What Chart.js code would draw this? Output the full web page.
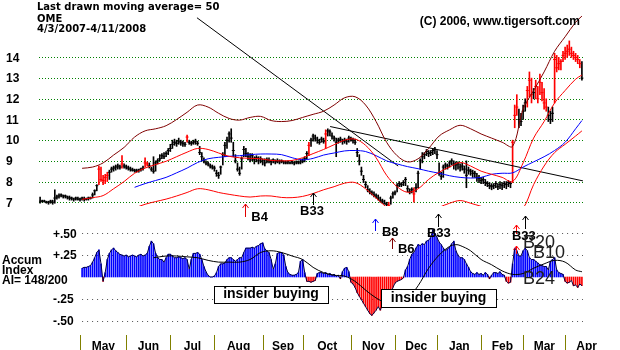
<!DOCTYPE html>
<html>
<head>
<meta charset="utf-8">
<title>OME</title>
<script src="https://cdn.jsdelivr.net/npm/chart.js@4.4.1/dist/chart.umd.min.js"></script>
<style>
  html, body { margin: 0; padding: 0; background: #fff; }
  canvas { display: block; }
</style>
</head>
<body>
<canvas id="chart" width="620" height="350"></canvas>
<script>
// daily bars, trading day 0 = 4/3/2007 ... day 258 = 4/11/2008
const closes = [
  7.05, 7.05, 7.05, 7.0, 7.0, 7.05, 7.0, 7.2, 7.25, 7.3,
  7.35, 7.3, 7.3, 7.25, 7.2, 7.2, 7.15, 7.2, 7.15, 7.15,
  7.2, 7.15, 7.15, 7.2, 7.2, 7.35, 7.55, 7.8, 8.6, 8.1,
  8.05, 8.2, 8.3, 8.45, 8.6, 8.65, 8.7, 8.75, 8.7, 8.85,
  8.75, 8.7, 8.65, 8.6, 8.55, 8.55, 8.5, 8.55, 8.6, 8.65,
  8.9, 8.85, 8.75, 8.6, 8.5, 8.9, 9.0, 9.1, 9.25, 9.2,
  9.35, 9.5, 9.6, 9.8, 9.9, 9.85, 9.95, 9.9, 9.85, 9.8,
  10.15, 9.9, 9.85, 9.9, 9.95, 9.85, 9.4, 9.2, 9.0, 8.9,
  8.85, 8.75, 8.7, 8.65, 8.4, 8.3, 8.7, 9.3, 9.75, 10.0,
  10.3, 10.1, 9.5, 9.0, 8.6, 8.4, 9.1, 9.55, 9.35, 9.2,
  9.1, 9.25, 9.05, 9.15, 9.0, 9.1, 9.0, 8.9, 9.05, 9.0,
  8.95, 9.05, 8.95, 9.0, 8.95, 9.0, 8.95, 8.9, 8.95, 8.9,
  8.95, 8.9, 8.95, 8.9, 8.95, 9.0, 9.1, 9.35, 9.75, 10.0,
  10.2, 10.1, 10.0, 9.9, 10.05, 9.95, 10.3, 10.45, 10.4, 10.2,
  10.1, 9.9, 10.0, 10.05, 9.95, 10.0, 9.95, 10.1, 10.05, 10.0,
  9.9, 9.4, 9.0, 8.5, 8.1, 7.85, 7.6, 7.5, 7.45, 7.35,
  7.3, 7.2, 7.1, 7.05, 6.95, 6.9, 6.85, 7.2, 7.4, 7.45,
  7.8, 7.9, 7.85, 7.95, 8.1, 7.65, 7.5, 7.6, 7.4, 7.7,
  8.4, 9.0, 9.2, 9.3, 9.45, 9.35, 9.4, 9.5, 9.55, 9.3,
  8.4, 8.25, 8.7, 8.8, 8.75, 8.9, 9.0, 8.85, 8.8, 8.85,
  8.7, 8.75, 8.6, 8.3, 8.55, 8.5, 8.4, 8.4, 8.2, 8.15,
  8.05, 8.1, 7.95, 7.9, 7.8, 7.75, 7.8, 7.9, 7.75, 7.85,
  7.8, 7.9, 7.85, 7.95, 7.9, 9.9, 11.2, 11.6, 11.0, 10.9,
  11.4, 11.8, 12.4, 12.9, 12.2, 12.3, 12.6, 12.0, 12.8, 12.3,
  11.8, 11.6, 11.2, 11.0, 11.3, 13.9, 13.5, 13.7, 13.8, 14.1,
  14.2, 14.3, 14.4, 14.2, 14.1, 14.0, 13.9, 13.7, 13.0
];
const highs = [
  7.25, 7.1, 7.1, 7.05, 7.05, 7.1, 7.1, 7.6, 7.35, 7.4,
  7.4, 7.35, 7.35, 7.3, 7.3, 7.25, 7.2, 7.25, 7.25, 7.2,
  7.25, 7.25, 7.2, 7.25, 7.25, 7.45, 7.6, 7.85, 8.75, 8.7,
  8.3, 8.35, 8.45, 8.55, 8.7, 8.75, 8.8, 8.85, 8.8, 9.25,
  8.85, 8.8, 8.75, 8.7, 8.65, 8.6, 8.6, 8.6, 8.65, 8.75,
  9.15, 8.95, 8.9, 8.7, 9.2, 9.0, 9.1, 9.3, 9.35, 9.4,
  9.45, 9.6, 9.8, 10.0, 10.05, 10.0, 10.1, 10.0, 9.95, 9.9,
  10.25, 10.0, 9.95, 10.0, 10.05, 9.95, 9.7, 9.4, 9.15, 9.0,
  8.95, 8.85, 8.8, 8.75, 8.55, 8.45, 8.75, 9.4, 9.9, 10.15,
  10.4, 10.55, 9.9, 9.3, 8.9, 8.7, 9.2, 9.7, 9.6, 9.4,
  9.35, 9.35, 9.2, 9.25, 9.2, 9.2, 9.1, 9.1, 9.15, 9.15,
  9.05, 9.1, 9.05, 9.1, 9.05, 9.05, 9.0, 9.0, 9.0, 8.95,
  9.0, 8.95, 9.0, 9.0, 9.05, 9.1, 9.2, 9.45, 9.9, 10.1,
  10.3, 10.25, 10.15, 10.05, 10.15, 10.1, 10.5, 10.55, 10.5, 10.35,
  10.2, 10.1, 10.1, 10.15, 10.05, 10.1, 10.05, 10.2, 10.15, 10.1,
  10.05, 9.6, 9.3, 8.7, 8.3, 8.0, 7.8, 7.65, 7.55, 7.5,
  7.4, 7.35, 7.25, 7.15, 7.1, 7.0, 7.0, 7.3, 7.5, 7.55,
  7.9, 8.0, 7.95, 8.05, 8.2, 7.8, 7.65, 7.7, 7.7, 7.9,
  8.5, 9.1, 9.4, 9.4, 9.55, 9.5, 9.5, 9.6, 9.65, 9.5,
  8.9, 8.45, 8.8, 8.9, 8.85, 9.0, 9.1, 9.0, 8.95, 8.95,
  8.85, 8.9, 8.75, 9.0, 8.7, 8.6, 8.55, 8.5, 8.4, 8.3,
  8.2, 8.2, 8.1, 8.0, 7.95, 7.9, 7.9, 8.0, 7.9, 8.0,
  7.95, 8.0, 8.0, 8.05, 8.0, 10.0, 11.7, 12.2, 11.5, 11.3,
  11.7, 12.0, 12.6, 13.3, 13.0, 12.5, 12.9, 12.6, 13.2, 12.8,
  12.5, 12.0, 11.6, 11.4, 11.6, 14.2, 14.1, 14.0, 13.9, 14.3,
  14.5, 14.6, 14.8, 14.5, 14.3, 14.2, 14.1, 13.9, 13.8
];
const lows = [
  6.95, 7.0, 7.0, 6.95, 6.9, 6.95, 6.9, 6.95, 7.15, 7.2,
  7.25, 7.2, 7.2, 7.15, 7.1, 7.1, 7.05, 7.1, 7.1, 7.05,
  7.1, 7.05, 7.1, 7.1, 7.15, 7.2, 7.35, 7.55, 7.85, 8.0,
  7.85, 7.9, 8.0, 8.1, 8.45, 8.5, 8.55, 8.6, 8.6, 8.65,
  8.65, 8.6, 8.55, 8.5, 8.5, 8.45, 8.45, 8.45, 8.5, 8.55,
  8.7, 8.75, 8.65, 8.5, 8.4, 8.5, 8.85, 9.0, 9.1, 9.1,
  9.2, 9.3, 9.45, 9.6, 9.75, 9.7, 9.8, 9.75, 9.7, 9.7,
  9.9, 9.8, 9.75, 9.8, 9.8, 9.75, 9.3, 9.0, 8.9, 8.8,
  8.75, 8.65, 8.6, 8.5, 8.25, 8.15, 8.35, 8.8, 9.2, 9.6,
  9.9, 9.9, 9.2, 8.9, 8.5, 8.3, 8.6, 9.2, 9.2, 9.05,
  8.95, 9.0, 8.85, 8.95, 8.85, 8.9, 8.8, 8.75, 8.9, 8.9,
  8.8, 8.9, 8.85, 8.9, 8.85, 8.9, 8.85, 8.85, 8.85, 8.85,
  8.85, 8.8, 8.85, 8.85, 8.85, 8.9, 8.95, 9.1, 9.25, 9.7,
  9.95, 9.95, 9.85, 9.8, 9.9, 9.85, 9.6, 10.2, 10.2, 10.05,
  9.95, 9.2, 9.85, 9.9, 9.8, 9.85, 9.8, 9.9, 9.95, 9.85,
  9.8, 9.2, 8.8, 8.3, 7.95, 7.7, 7.5, 7.4, 7.35, 7.25,
  7.2, 7.1, 7.0, 6.95, 6.9, 6.8, 6.75, 6.9, 7.2, 7.35,
  7.5, 7.75, 7.75, 7.8, 7.8, 7.5, 7.4, 7.45, 7.0, 7.5,
  7.7, 8.6, 8.9, 9.1, 9.25, 9.2, 9.25, 9.3, 9.35, 9.1,
  8.3, 8.1, 8.2, 8.6, 8.6, 8.7, 8.8, 8.6, 8.55, 8.6,
  8.5, 8.55, 8.4, 7.7, 8.35, 8.3, 8.2, 8.2, 8.0, 7.95,
  7.9, 7.9, 7.8, 7.75, 7.65, 7.6, 7.65, 7.7, 7.6, 7.65,
  7.6, 7.7, 7.65, 7.75, 7.7, 7.95, 10.6, 11.2, 10.6, 10.7,
  11.0, 11.4, 11.6, 12.1, 11.8, 12.0, 12.0, 11.8, 12.2, 11.9,
  11.5, 11.4, 10.9, 10.8, 10.9, 11.8, 13.3, 13.4, 13.4, 13.8,
  13.9, 14.0, 14.1, 14.0, 13.9, 13.8, 13.7, 13.5, 12.9
];
// days whose bar is printed in red
const redDays = [28, 29, 30, 31, 32, 39, 50, 51, 70, 128, 136, 166, 178,
  225, 226, 227, 232, 233, 234, 236, 237, 238, 239, 240, 241,
  245, 246, 247, 248, 249, 250, 251, 252, 253, 254, 255, 256, 257];

// moving averages and bands, read every 5 trading days
const bandDays = [20, 25, 30, 35, 40, 45, 50, 55, 60, 65, 70, 75, 80, 85, 90, 95, 100,
  105, 110, 115, 120, 125, 130, 135, 140, 145, 150, 155, 160, 165, 170, 175, 180,
  185, 190, 195, 200, 205, 210, 215, 220, 225, 230, 235, 240, 245, 250, 255, 258];
const ma21 = [7.14, 7.22, 7.32, 7.65, 8.0, 8.4, 8.65, 8.82, 8.98, 9.2, 9.42, 9.6, 9.55,
  9.38, 9.22, 9.15, 9.12, 9.1, 9.02, 9.0, 9.02, 9.15, 9.35, 9.55, 9.78, 10.0, 10.05,
  9.75, 9.15, 8.3, 7.75, 7.48, 7.65, 8.1, 8.45, 8.7, 8.92, 8.75, 8.5, 8.35, 8.2, 8.0,
  8.9, 10.1, 10.9, 11.8, 12.4, 12.95, 13.15];
const ma50 = [null, null, null, null, null, 7.72, 7.9, 8.05, 8.2, 8.42, 8.65, 8.92, 9.1,
  9.17, 9.22, 9.25, 9.3, 9.33, 9.33, 9.3, 9.15, 9.05, 9.12, 9.28, 9.38, 9.48, 9.5,
  9.45, 9.25, 9.0, 8.85, 8.72, 8.62, 8.5, 8.4, 8.28, 8.2, 8.17, 8.2, 8.35, 8.4, 8.42,
  8.7, 8.95, 9.2, 9.5, 9.9, 10.55, 10.95];
const upperBand = [8.64, 8.7, 8.9, 9.28, 9.65, 10.15, 10.45, 10.55, 10.7, 11.0, 11.35,
  11.7, 11.6, 11.3, 11.05, 10.97, 11.1, 11.15, 10.95, 10.9, 10.95, 11.1, 11.25, 11.4,
  11.7, 12.05, 12.1, 11.7, 10.9, 9.9, 9.25, 8.95, 9.1, 9.6, 10.2, 10.5, 10.72, 10.55,
  10.3, 10.1, 9.9, 9.7, 11.5, 12.4, 13.3, 14.3, 15.0, 15.7, 16.0];
const lowerBand = [null, null, null, null, null, 6.72, 6.9, 7.03, 7.15, 7.3, 7.47, 7.65,
  7.6, 7.47, 7.38, 7.3, 7.25, 7.3, 7.3, 7.23, 7.22, 7.28, 7.42, 7.6, 7.75, 7.92, 7.95,
  7.65, 7.2, 6.75, 6.3, 6.0, 6.15, 6.5, 6.75, 6.95, 7.08, 6.95, 6.8, 6.65, 6.55, 6.45,
  6.7, 7.85, 8.75, 9.4, 9.8, 10.2, 10.45];

// hand drawn trend lines: [day, price] end points
const trendDown = [[74.7, 15.92], [170.5, 8.75]];
const trendFlat = [[138.1, 10.66], [258.5, 8.03]];

// accumulation index, one value per day from day 20
const accumStart = 20;
const accum = [
  0.10, 0.11, 0.11, 0.12, 0.13, 0.17, 0.22, 0.28, 0.31, 0.15,
  -0.05, 0.05, 0.20, 0.27, 0.31, 0.33, 0.30, 0.28, 0.26, 0.25,
  0.24, 0.25, 0.23, 0.24, 0.25, 0.24, 0.23, 0.25, 0.26, 0.24,
  0.25, 0.27, 0.35, 0.41, 0.38, 0.27, 0.22, 0.20, 0.20, 0.17,
  0.22, 0.26, 0.26, 0.24, 0.22, 0.22, 0.23, 0.22, 0.21, 0.22,
  0.20, 0.09, 0.20, 0.27, 0.27, 0.28, 0.26, 0.20, 0.12, 0.06,
  0.02, 0.00, 0.00, 0.01, 0.05, 0.12, 0.15, 0.15, 0.16, 0.20,
  0.22, 0.22, 0.20, 0.18, 0.20, 0.22, 0.22, 0.28, 0.33, 0.33,
  0.33, 0.34, 0.33, 0.35, 0.36, 0.38, 0.39, 0.32, 0.30, 0.28,
  0.20, 0.09, 0.15, 0.27, 0.28, 0.28, 0.25, 0.12, 0.05, 0.03,
  0.02, 0.02, 0.03, 0.05, 0.18, 0.20, 0.05, -0.05, -0.05, -0.06,
  -0.05, -0.04, 0.04, 0.05, 0.05, 0.04, 0.05, 0.03, 0.04, 0.02,
  0.03, 0.01, 0.02, -0.02, 0.06, 0.10, 0.11, 0.06, -0.06, -0.08,
  -0.12, -0.18, -0.22, -0.26, -0.30, -0.34, -0.38, -0.42, -0.44, -0.41,
  -0.38, -0.34, -0.38, -0.32, -0.30, -0.24, -0.22, -0.20, -0.12, -0.07,
  -0.05, -0.04, -0.03, -0.01, 0.08, 0.12, 0.20, 0.26, 0.28, 0.33,
  0.37, 0.36, 0.38, 0.37, 0.41, 0.42, 0.45, 0.54, 0.50, 0.45,
  0.40, 0.37, 0.33, 0.30, 0.32, 0.34, 0.38, 0.41, 0.30, 0.25,
  0.22, 0.22, 0.20, 0.15, 0.11, 0.06, 0.04, 0.03, 0.05, 0.03,
  0.04, 0.02, 0.05, 0.03, -0.02, 0.02, 0.05, 0.05, 0.04, 0.06,
  0.03, 0.02, -0.05, -0.07, -0.06, 0.15, 0.33, 0.30, 0.24, 0.24,
  0.30, 0.33, 0.30, 0.22, 0.20, 0.20, 0.18, 0.16, 0.14, 0.13,
  0.12, 0.12, 0.08, 0.18, 0.20, 0.22, 0.08, 0.05, 0.04, 0.03,
  -0.05, -0.07, -0.06, -0.04, -0.10, -0.09, -0.12, -0.08, -0.10
];
const accumMaDays = [54, 60, 65, 70, 75, 80, 85, 90, 95, 100, 105, 110, 115, 120, 125,
  130, 135, 140, 145, 150, 155, 160, 165, 170, 175, 180, 185, 190, 195, 198, 200, 205,
  210, 215, 220, 225, 230, 235, 240, 245, 250, 255, 258];
const accumMa = [0.22, 0.24, 0.24, 0.23, 0.22, 0.19, 0.17, 0.17, 0.17, 0.2, 0.28, 0.3,
  0.28, 0.24, 0.2, 0.11, 0.05, 0.02, 0.01, -0.05, -0.15, -0.24, -0.3, -0.33, -0.25,
  -0.1, 0.1, 0.25, 0.35, 0.37, 0.36, 0.3, 0.2, 0.14, 0.07, 0.03, 0.04, 0.1, 0.15, 0.19,
  0.17, 0.08, 0.06];

// axes
const priceTicks = [7, 8, 9, 10, 11, 12, 13, 14];
const accumTicks = [0.5, 0.25, -0.25, -0.5];
const accumTickLabels = ['+.50', '+.25', '-.25', '-.50'];
const monthStarts = [19, 41, 62, 83, 106, 125, 148, 169, 189, 210, 230, 250];
const monthLabels = ['May', 'Jun', 'Jul', 'Aug', 'Sep', 'Oct', 'Nov', 'Dec', 'Jan', 'Feb', 'Mar', 'Apr'];

const RED = '#ff0000';
const DARKRED = '#800000';
const BLUE = '#0000ff';
const SANS = '"Liberation Sans", Arial, sans-serif';
const WIDE = '"DejaVu Sans", sans-serif';

const redSet = new Set(redDays);
const barColor = c => (c.raw && redSet.has(c.raw.x)) ? RED : '#000000';
const toPoints = (days, vals) => days.map((d, i) => ({ x: d, y: vals[i] }));

// price panel stops just under the 7 line
const priceClip = { left: 0, top: 5, right: 2, bottom: -139 };

const priceBars = closes.map((c, i) => ({ x: i, y: [lows[i], highs[i]] }));
const closePoints = closes.map((c, i) => ({ x: i, y: c }));
const accumPoints = accum.map((v, i) => ({ x: accumStart + i, y: v }));

function lineSet(data, color, axis) {
  return {
    type: 'line', data, yAxisID: axis, borderColor: color, borderWidth: 1,
    pointRadius: 0, tension: 0.35, fill: false, order: 0,
    clip: axis === 'y' ? priceClip : undefined
  };
}

function arrow(ctx, px, yTop, yBottom, color) {
  const x0 = Math.round(px) + 0.5;
  ctx.strokeStyle = color;
  ctx.lineWidth = 1;
  ctx.beginPath();
  ctx.moveTo(x0, yBottom);
  ctx.lineTo(x0, yTop);
  ctx.moveTo(x0 - 3, yTop + 4);
  ctx.lineTo(x0, yTop);
  ctx.lineTo(x0 + 3, yTop + 4);
  ctx.stroke();
}

function textBox(ctx, left, right, top, bottom, label) {
  ctx.fillStyle = '#ffffff';
  ctx.fillRect(left, top, right - left, bottom - top);
  ctx.strokeStyle = '#000000';
  ctx.lineWidth = 1;
  ctx.strokeRect(Math.round(left) + 0.5, top + 0.5, Math.round(right - left), bottom - top);
  ctx.fillStyle = '#000000';
  ctx.font = 'bold 14px ' + SANS;
  ctx.textAlign = 'center';
  ctx.textBaseline = 'alphabetic';
  ctx.fillText(label, (left + right) / 2, bottom - 5);
}

const overlay = {
  id: 'overlay',
  beforeDatasetsDraw(chart) {
    const { ctx, chartArea, scales: { x, y, y2 } } = chart;
    ctx.save();
    ctx.lineWidth = 1;
    ctx.setLineDash([1, 2]);
    ctx.strokeStyle = '#008000';
    priceTicks.forEach(v => {
      const py = Math.round(y.getPixelForValue(v)) + 0.5;
      ctx.beginPath();
      ctx.moveTo(chartArea.left, py);
      ctx.lineTo(chartArea.right, py);
      ctx.stroke();
    });
    ctx.setLineDash([1, 4]);
    ctx.strokeStyle = '#505050';
    const accLeft = x.getPixelForValue(accumStart);
    accumTicks.forEach(v => {
      const py = Math.round(y2.getPixelForValue(v)) + 0.5;
      ctx.beginPath();
      ctx.moveTo(accLeft, py);
      ctx.lineTo(chartArea.right, py);
      ctx.stroke();
    });
    ctx.restore();
  },
  afterDatasetsDraw(chart) {
    const { ctx, chartArea, scales: { x, y, y2 } } = chart;
    ctx.save();
    ctx.setLineDash([]);

    // price axis
    ctx.fillStyle = '#000000';
    ctx.font = 'bold 12px ' + SANS;
    ctx.textAlign = 'left';
    ctx.textBaseline = 'middle';
    priceTicks.forEach(v => ctx.fillText(String(v), 6, y.getPixelForValue(v) + 1));

    // accumulation axis
    accumTicks.forEach((v, i) => ctx.fillText(accumTickLabels[i], 53, y2.getPixelForValue(v) + 1));
    ctx.textBaseline = 'alphabetic';
    ctx.fillText('Accum', 2, 264);
    ctx.fillText('Index', 2, 274);
    ctx.fillText('AI= 148/200', 2, 284);

    // month separators and names
    ctx.strokeStyle = '#808000';
    ctx.lineWidth = 1;
    ctx.textAlign = 'center';
    ctx.textBaseline = 'top';
    monthStarts.forEach((d, i) => {
      const px = Math.round(x.getPixelForValue(d)) + 0.5;
      ctx.beginPath();
      ctx.moveTo(px, 335);
      ctx.lineTo(px, 350);
      ctx.stroke();
      const next = i < monthStarts.length - 1
        ? x.getPixelForValue(monthStarts[i + 1])
        : px + (px - x.getPixelForValue(monthStarts[i - 1]));
      ctx.fillStyle = '#000000';
      ctx.fillText(monthLabels[i], (px + next) / 2, 341);
    });

    // buy signals
    arrow(ctx, x.getPixelForValue(97.6), 204, 217, '#e00000');
    arrow(ctx, x.getPixelForValue(130), 193, 205, '#000000');
    arrow(ctx, x.getPixelForValue(159.5), 219, 231, '#0000ff');
    arrow(ctx, x.getPixelForValue(167.6), 238, 249, DARKRED);
    arrow(ctx, x.getPixelForValue(189.5), 214, 227, '#000000');
    arrow(ctx, x.getPixelForValue(231), 216, 229, '#000000');
    arrow(ctx, x.getPixelForValue(226.6), 225, 234, RED);
    arrow(ctx, x.getPixelForValue(226.6), 246, 254, RED);
    ctx.fillStyle = '#000000';
    ctx.font = 'bold 13px ' + SANS;
    ctx.textAlign = 'left';
    ctx.textBaseline = 'alphabetic';
    ctx.fillText('B4', x.getPixelForValue(100.6), 221);
    ctx.fillText('B33', x.getPixelForValue(123.8), 215);
    ctx.fillText('B8', x.getPixelForValue(162.8), 236);
    ctx.fillText('B6', x.getPixelForValue(170.4), 253);
    ctx.fillText('B33', x.getPixelForValue(184.2), 237);
    ctx.fillText('B33', x.getPixelForValue(224.7), 240);
    ctx.fillStyle = '#202020';
    ctx.font = '18px ' + SANS;
    ctx.fillText('B20', x.getPixelForValue(230), 248);
    ctx.fillText('B10', x.getPixelForValue(234.7), 258);
    ctx.fillText('B24', x.getPixelForValue(230), 284);

    // notes on the accumulation panel
    textBox(ctx, x.getPixelForValue(82.8), x.getPixelForValue(137.1), 286, 303, 'insider buying');
    textBox(ctx, x.getPixelForValue(162.3), x.getPixelForValue(217.2), 289, 307, 'insider buying');

    // titles
    ctx.fillStyle = '#000000';
    ctx.font = 'bold 10px ' + WIDE;
    ctx.textAlign = 'left';
    ctx.fillText('Last drawn moving average= 50', 37, 10);
    ctx.fillText('OME', 37, 22);
    ctx.fillText('4/3/2007-4/11/2008', 37, 32);
    ctx.font = 'bold 12px ' + SANS;
    ctx.textAlign = 'right';
    ctx.fillText('(C) 2006, www.tigersoft.com', 580, 25);
    ctx.restore();
  }
};

new Chart(document.getElementById('chart'), {
  data: {
    datasets: [
      lineSet(toPoints(bandDays, upperBand), DARKRED, 'y'),
      lineSet(toPoints(bandDays, ma21), RED, 'y'),
      lineSet(toPoints(bandDays, ma50), BLUE, 'y'),
      lineSet(toPoints(bandDays, lowerBand), RED, 'y'),
      Object.assign(lineSet(trendDown.map(p => ({ x: p[0], y: p[1] })), '#000000', 'y'), { tension: 0 }),
      Object.assign(lineSet(trendFlat.map(p => ({ x: p[0], y: p[1] })), '#000000', 'y'), { tension: 0 }),
      {
        type: 'line', data: closePoints, yAxisID: 'y', showLine: false,
        pointStyle: 'line', pointRadius: 1.5, pointBorderWidth: 1,
        pointBorderColor: barColor, order: 4, clip: priceClip
      },
      {
        type: 'bar', data: priceBars, yAxisID: 'y', barThickness: 1, grouped: false,
        backgroundColor: barColor, borderWidth: 0, order: 5, clip: priceClip
      },
      lineSet(toPoints(accumMaDays, accumMa), '#000000', 'y2'),
      Object.assign(lineSet(accumPoints, '#000040', 'y2'), { tension: 0, order: 3 }),
      {
        type: 'bar', data: accumPoints, yAxisID: 'y2', barThickness: 1, grouped: false,
        backgroundColor: c => (c.raw && c.raw.y < 0) ? RED : BLUE, borderWidth: 0, order: 5
      }
    ]
  },
  options: {
    responsive: false,
    animation: false,
    devicePixelRatio: 1,
    layout: { padding: { left: 39, right: 37, top: 0, bottom: 0 } },
    plugins: { legend: { display: false }, tooltip: { enabled: false } },
    scales: {
      x: { type: 'linear', offset: false, min: -0.524, max: 258.52, display: false },
      y: { type: 'linear', min: 0.094, max: 16.537, display: false },
      y2: { type: 'linear', min: -0.778, max: 3.111, display: false }
    }
  },
  plugins: [overlay]
});
</script>
</body>
</html>
